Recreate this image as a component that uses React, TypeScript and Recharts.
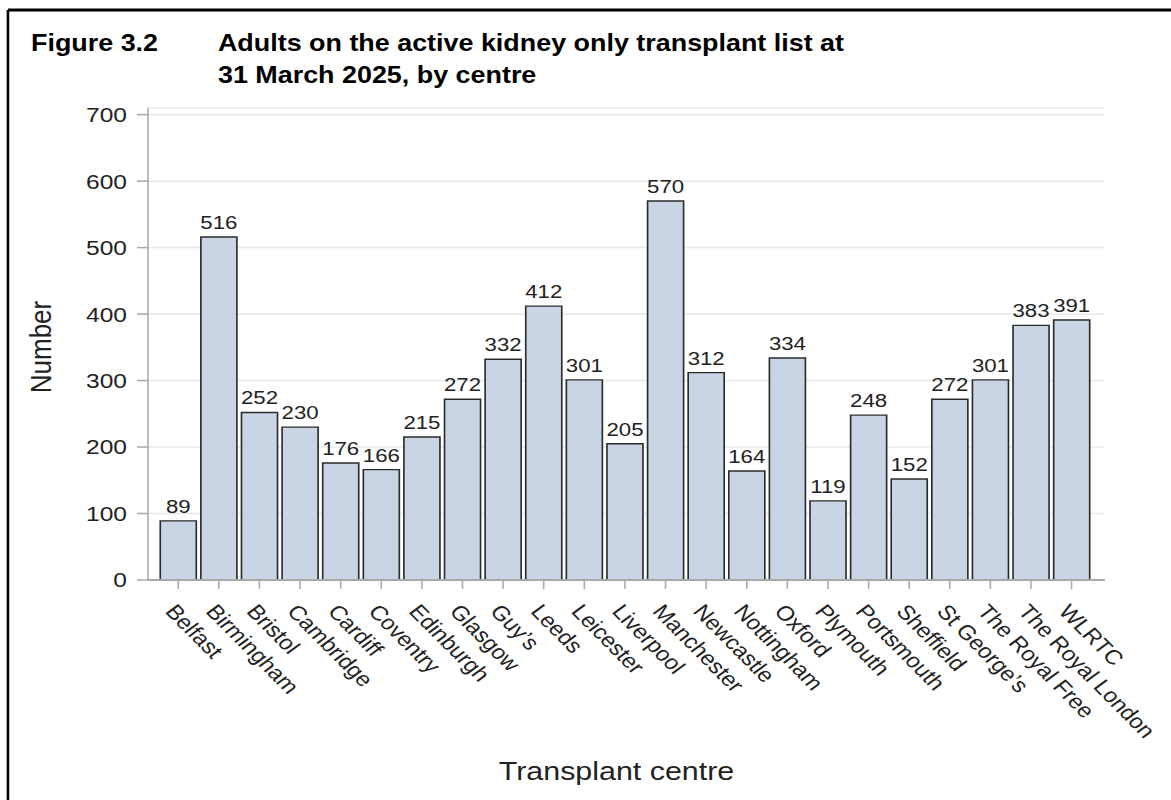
import React from "react";
import { BarChart, Bar, XAxis, YAxis, CartesianGrid, LabelList } from "recharts";

const centres = [
  "Belfast", "Birmingham", "Bristol", "Cambridge", "Cardiff", "Coventry", "Edinburgh",
  "Glasgow", "Guy\u2019s", "Leeds", "Leicester", "Liverpool", "Manchester", "Newcastle",
  "Nottingham", "Oxford", "Plymouth", "Portsmouth", "Sheffield", "St George\u2019s",
  "The Royal Free", "The Royal London", "WLRTC",
];
const patients = [
  89, 516, 252, 230, 176, 166, 215, 272, 332, 412, 301, 205, 570, 312, 164, 334, 119, 248,
  152, 272, 301, 383, 391,
];
const yTicks = [0, 100, 200, 300, 400, 500, 600, 700];

const titleLabel = "Figure 3.2";
const titleLines = ["Adults on the active kidney only transplant list at", "31 March 2025, by centre"];
const xTitle = "Transplant centre";
const yTitle = "Number";

const data = centres.map((name, i) => ({ name, value: patients[i] }));

const FONT = "'Liberation Sans', Arial, sans-serif";
const TEXT = "#222";
const AXIS = "#a8a8a8";

// the reference is drawn with a horizontally widened aspect
const SX = 1.17;
const W = Math.round(1171 / SX);
// rotation in unstretched space so that labels appear at ~45 degrees
const LABEL_ANGLE = 49.5;

const XTick = (props: any) => {
  const { x, y, payload } = props;
  return (
    <g transform={`translate(${x - 12},${y + 21}) rotate(${LABEL_ANGLE})`}>
      <text x={0} y={0} textAnchor="start" fill={TEXT} fontSize={20.5} fontFamily={FONT}>
        {payload.value}
      </text>
    </g>
  );
};

export default function App() {
  return (
    <div style={{ position: "absolute", left: 0, top: 0, width: 1171, height: 800, background: "#fff", overflow: "hidden" }}>
      <div style={{ position: "absolute", left: 0, top: 0, width: W, height: 800, transform: `scaleX(${1171 / W})`, transformOrigin: "0 0" }}>
        <svg width={W} height={800} style={{ position: "absolute", left: 0, top: 0 }}>
          <line x1={6.8} y1={10} x2={W} y2={10} stroke="#000" strokeWidth={3} />
          <line x1={6.8} y1={10} x2={6.8} y2={800} stroke="#000" strokeWidth={2.2} />
          <text x={26.5} y={51} fontFamily={FONT} fontWeight="bold" fontSize={23} fill="#000">{titleLabel}</text>
          {titleLines.map((t, i) => (
            <text key={i} x={186.3} y={51 + i * 32} fontFamily={FONT} fontWeight="bold" fontSize={23} fill="#000">{t}</text>
          ))}
          <text x={527} y={780} textAnchor="middle" fontFamily={FONT} fontSize={26} fill={TEXT}>{xTitle}</text>
          <text x={0} y={0} transform={`translate(44,347) rotate(-90)`} textAnchor="middle" fontFamily={FONT} fontSize={26} fill={TEXT}>{yTitle}</text>
        </svg>
        <div style={{ position: "absolute", left: 0, top: 0 }}>
          <BarChart
            width={W}
            height={800}
            data={data}
            margin={{ top: 108, right: W - 944.4, left: 0, bottom: 0 }}
            barSize={30.8}
          >
            <CartesianGrid horizontal={true} vertical={false} stroke="#e8e8e8" strokeWidth={1.5} />
            <XAxis
              dataKey="name"
              interval={0}
              height={220}
              tick={<XTick />}
              tickSize={9}
              axisLine={{ stroke: AXIS, strokeWidth: 2 }}
              tickLine={{ stroke: AXIS, strokeWidth: 1.3 }}
              padding={{ left: 8.5, right: 11 }}
            />
            <YAxis
              width={126.5}
              domain={[0, 710]}
              ticks={yTicks}
              interval={0}
              tickSize={9.4}
              tickMargin={8.5}
              tick={{ fill: TEXT, fontSize: 21, fontFamily: FONT }}
              axisLine={{ stroke: AXIS, strokeWidth: 1.3 }}
              tickLine={{ stroke: AXIS, strokeWidth: 1.5 }}
            />
            <Bar dataKey="value" fill="#c9d5e5" stroke="#2b2b2b" strokeWidth={1.4} isAnimationActive={false}>
              <LabelList dataKey="value" position="top" offset={8} fill={TEXT} fontSize={19} fontFamily={FONT} />
            </Bar>
          </BarChart>
        </div>
      </div>
    </div>
  );
}
